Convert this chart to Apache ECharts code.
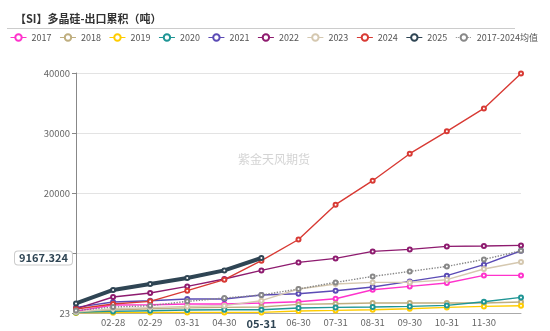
<!DOCTYPE html>
<html>
<head>
<meta charset="utf-8">
<script src="https://cdn.jsdelivr.net/npm/echarts@6/dist/echarts.min.js"></script>
<style>
html,body{margin:0;padding:0;background:#fff;}
#chart{width:550px;height:331px;}
</style>
</head>
<body>
<div id="chart"></div>
<script>
var categories = ["01-31","02-28","02-29","03-31","04-30","05-31","06-30","07-31","08-31","09-30","10-31","11-30","12-31"];
var s2017 = [300, 1330, 1380, 1500, 1500, 1670, 1880, 2380, 3880, 4430, 5000, 6270, 6270];
var s2018 = [100, 500, 700, 850, 930, 1000, 1430, 1550, 1670, 1670, 1670, 1670, 1830];
var s2019 = [20, 60, 80, 100, 100, 100, 330, 430, 550, 700, 930, 1100, 1220];
var s2020 = [100, 270, 380, 500, 550, 550, 830, 930, 1000, 1100, 1270, 1880, 2600];
var s2021 = [930, 1830, 2050, 2330, 2330, 3000, 3220, 3720, 4330, 5270, 6220, 8050, 10380];
var s2022 = [700, 2670, 3330, 4430, 5670, 7100, 8430, 9100, 10270, 10600, 11100, 11170, 11270];
var s2023 = [150, 720, 900, 1100, 1220, 2050, 4000, 4830, 5100, 5100, 5550, 7330, 8500];
var s2024 = [670, 1500, 1940, 3720, 5550, 8720, 12250, 18050, 22050, 26550, 30280, 34100, 39900];
var s2025 = [1600, 3850, 4830, 5830, 7100, 9167.324];
var sAvg = [400, 1000, 1220, 1940, 2500, 3000, 4000, 5100, 6100, 6930, 7770, 8930, 10380];
var seriesNames = ["2017","2018","2019","2020","2021","2022","2023","2024","2025","2017-2024均值"];
var seriesData = [s2017, s2018, s2019, s2020, s2021, s2022, s2023, s2024, s2025, sAvg];
var colors = ["#ff33cc","#bfae7f","#ffcc00","#1f9595","#5b4bb5","#8e1b6f","#d5c8b0","#d83a34","#2f4554","#888888"];
var yTickLabels = ["23","","20000","30000","40000"];
var yMin = 0, yMax = 40000, yInterval = 10000;
var latestValue = 9167.324;
var highlightCat = "05-31";

var FONT = '"Noto Sans CJK SC", "Noto Sans", sans-serif';
var chart = echarts.init(document.getElementById('chart'), null, {renderer: 'canvas'});

var series = seriesNames.map(function(name, i){
  var isCur = name === "2025";
  var isAvg = i === seriesNames.length - 1;
  return {
    name: name,
    type: 'line',
    data: seriesData[i],
    symbol: 'emptyCircle',
    symbolSize: 4,
    showSymbol: true,
    z: isCur ? 10 : 2,
    itemStyle: {color: colors[i], borderWidth: 1},
    lineStyle: {width: isCur ? 4 : 1.4, type: isAvg ? 'dotted' : 'solid', color: colors[i]},
    emphasis: {disabled: true},
    animation: false
  };
});

var option = {
  animation: false,
  textStyle: {fontFamily: FONT},
  title: {
    text: '【SI】多晶硅-出口累积（吨）',
    left: 10, top: 8,
    textStyle: {fontSize: 11, fontWeight: 'bold', color: '#333', fontFamily: FONT}
  },
  graphic: [
    {type: 'line', shape: {x1: 7, y1: 28.5, x2: 515, y2: 28.5}, style: {stroke: '#cccccc', lineWidth: 1}, silent: true},
    {type: 'text', left: 238, top: 153, style: {text: '紫金天风期货', fill: '#d4d4d4', fontSize: 12, fontFamily: FONT}, silent: true, z: 0}
  ],
  legend: {
    data: seriesNames,
    left: 5, top: 28,
    itemWidth: 16, itemHeight: 8, itemGap: 8,
    itemStyle: {borderWidth: 1},
    lineStyle: {width: 1},
    textStyle: {fontSize: 9, color: '#555', fontFamily: FONT}
  },
  grid: {left: 76, right: 29, top: 73, bottom: 18, containLabel: false},
  xAxis: {
    type: 'category',
    data: categories,
    boundaryGap: false,
    axisLine: {show: true, lineStyle: {color: '#aaaaaa'}},
    axisTick: {show: false},
    axisLabel: {
      fontSize: 9.5, color: '#666', margin: 5, fontFamily: FONT,
      interval: function(idx){ return idx > 0 && idx < categories.length - 1; },
      formatter: function(v){ return v === highlightCat ? '{hl|' + v + '}' : v; },
      rich: {hl: {fontSize: 11, fontWeight: 'bold', color: '#2f4554', fontFamily: FONT}}
    },
    splitLine: {show: false}
  },
  yAxis: {
    type: 'value',
    min: yMin, max: yMax, interval: yInterval,
    axisLine: {show: true, lineStyle: {color: '#888888'}},
    axisTick: {show: true, length: 4, lineStyle: {color: '#888888'}},
    axisLabel: {
      fontSize: 9.5, color: '#666', margin: 6, fontFamily: FONT,
      formatter: function(v){ var i = Math.round(v / yInterval); return yTickLabels[i] !== undefined ? yTickLabels[i] : String(v); }
    },
    splitLine: {show: true, lineStyle: {color: '#e3e3e3'}},
    axisPointer: {
      show: true,
      value: latestValue,
      status: 'show',
      triggerTooltip: false,
      lineStyle: {opacity: 0},
      label: {
        show: true,
        formatter: function(){ return String(latestValue); },
        backgroundColor: '#fff',
        borderColor: '#cccccc',
        borderWidth: 1,
        color: '#2f4554',
        fontWeight: 'bold',
        fontSize: 11,
        fontFamily: FONT,
        padding: [1, 4, 1, 4],
        margin: 4,
        shadowBlur: 0
      }
    }
  },
  series: series
};
chart.setOption(option);
</script>
</body>
</html>
